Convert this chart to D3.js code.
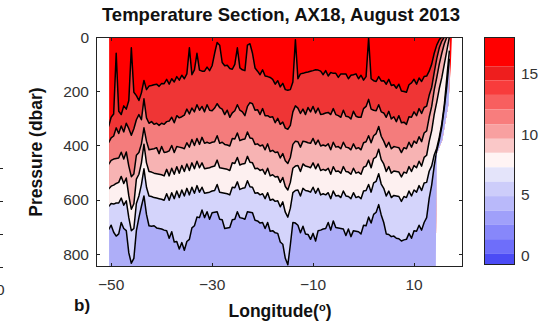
<!DOCTYPE html>
<html>
<head>
<meta charset="utf-8">
<script src="https://cdn.jsdelivr.net/npm/d3@7"></script>
<style>
body { margin: 0; background: #fff; }
svg { display: block; font-family: "Liberation Sans", Arial, sans-serif; }
</style>
</head>
<body>
<svg id="chart" width="553" height="324"></svg>
<script>
// sample longitudes of the section (deg)
const lonGrid = [
  -50.5,-50,-49.5,-49,-48.5,-48,-47.5,-47,-46.5,-46,
  -45.5,-45,-44.5,-44,-43.5,-43,-42.5,-42,-41.5,-41,
  -40.5,-40,-39.5,-39,-38.5,-38,-37.5,-37,-36.5,-36,
  -35.5,-35,-34.5,-34,-33.5,-33,-32.5,-32,-31.5,-31,
  -30.5,-30,-29.5,-29,-28.5,-28,-27.5,-27,-26.5,-26,
  -25.5,-25,-24.5,-24,-23.5,-23,-22.5,-22,-21.5,-21,
  -20.5,-20,-19.5,-19,-18.5,-18,-17.5,-17,-16.5,-16,
  -15.5,-15,-14.5,-14,-13.5,-13,-12.5,-12,-11.5,-11,
  -10.5,-10,-9.5,-9,-8.5,-8,-7.5,-7,-6.5,-6,
  -5.5,-5,-4.5,-4,-3.5,-3,-2.5,-2,-1.5,-1,
  -0.5,0,0.5,1,1.5,2,2.5,3,3.5,4,
  4.5,5,5.5,6,6.5,7,7.5,8,8.5,9,
  9.5,10,10.5,11,11.5,12,12.5,13,13.5,14,
  14.5,15,15.5,16,16.5,17
];

// depth (dbar) of each contour line, top to bottom
const line16 = [
  330,296,284,60,274,286,254,266,234,40,
  204,216,234,206,160,194,181,179,176,174,
  182,171,172,156,174,154,166,146,159,141,
  154,136,40,139,121,60,122,126,126,111,
  124,106,60,20,30,94,106,104,116,119,
  101,40,114,121,124,30,25,60,114,126,
  139,121,144,146,149,156,174,161,184,171,
  194,196,194,166,10,154,136,134,131,129,
  126,124,121,122,126,139,124,144,131,134,
  134,149,136,136,136,154,141,139,136,154,
  141,159,146,5,154,161,164,146,162,161,
  174,156,179,176,189,174,199,201,204,176,
  169,156,174,151,164,146,144,126,100,60,
  30,10,0,0,0,0
];
const line14 = [
  390,372,365,335,356,328,350,318,338,362,
  338,305,286,305,228,298,318,312,322,318,
  326,318,322,312,310,296,316,290,298,294,
  288,266,284,262,276,250,270,256,276,250,
  270,272,262,246,260,266,286,270,296,280,
  272,250,270,276,290,256,242,246,270,268,
  286,264,290,290,296,294,316,300,322,314,
  336,340,326,276,254,262,282,266,286,260,
  276,256,280,262,286,284,280,278,286,264,
  286,290,296,270,292,294,302,274,292,296,
  296,264,256,230,266,270,272,250,276,280,
  296,274,302,294,312,290,316,314,322,294,
  296,276,290,264,282,260,255,215,185,130,
  80,40,15,0,0,0
];
const line12 = [
  470,455,450,448,446,425,450,424,476,515,
  505,436,426,394,335,384,416,414,412,408,
  430,404,426,424,420,400,426,404,406,408,
  412,390,406,378,400,374,396,370,392,388,
  392,388,386,364,392,388,396,398,402,374,
  376,354,382,378,376,350,372,374,396,394,
  402,398,416,394,422,418,426,424,446,430,
  456,466,444,396,384,386,406,384,386,390,
  392,374,396,380,402,398,402,394,416,388,
  406,404,412,388,406,408,416,394,412,408,
  416,390,386,364,390,364,356,330,366,384,
  406,388,412,404,406,408,426,408,412,388,
  406,384,392,368,386,354,346,296,256,195,
  150,100,60,25,0,0
];
const line10 = [
  560,550,546,540,536,514,540,520,586,635,
  615,524,506,464,395,464,496,498,502,504,
  506,508,512,488,512,484,506,478,502,474,
  496,468,492,464,486,458,482,464,486,484,
  482,478,476,454,482,484,486,488,492,464,
  466,444,472,468,466,440,462,464,486,484,
  492,488,506,484,512,508,516,514,536,518,
  551,564,536,484,476,474,496,468,476,478,
  482,464,486,468,492,488,492,484,506,478,
  496,494,502,478,496,498,506,484,502,498,
  506,480,476,454,482,448,442,414,452,468,
  496,478,502,494,496,498,516,498,502,478,
  496,474,482,458,476,444,436,385,345,285,
  240,190,150,100,50,0
];
const line8 = [
  625,614,616,612,612,594,620,604,666,714,
  706,614,586,544,486,554,586,588,592,594,
  596,598,602,578,602,574,596,568,592,564,
  586,558,582,554,576,548,572,554,576,574,
  572,568,566,544,572,574,576,578,582,554,
  556,534,562,558,556,530,552,554,576,574,
  582,578,596,574,602,598,606,604,626,608,
  646,664,631,574,566,564,586,558,566,568,
  572,554,576,558,582,578,582,574,596,568,
  586,584,592,568,586,588,596,574,592,588,
  596,568,566,544,572,538,532,504,542,558,
  586,568,592,584,586,588,606,588,592,568,
  586,564,572,548,566,538,536,495,475,435,
  410,370,320,250,150,50
];
const line6 = [
  710,694,720,734,726,684,706,714,796,834,
  816,714,666,624,586,654,696,698,696,704,
  706,708,712,714,742,718,756,754,782,758,
  786,754,746,704,696,664,666,638,666,644,
  672,648,646,644,672,674,706,704,702,674,
  672,644,666,668,672,644,646,648,676,678,
  686,684,706,684,716,714,722,724,756,764,
  816,840,766,684,686,694,722,698,726,728,
  746,724,752,714,712,708,706,684,712,678,
  702,704,706,708,732,708,736,714,716,718,
  726,694,696,664,686,654,646,618,656,684,
  726,728,736,734,742,744,752,748,746,724,
  742,714,716,694,712,684,666,595,545,475,
  420,380,330,260,180,80
];
const contourLines = [line16, line14, line12, line10, line8, line6];

// fill of each band, from the warm surface layer down to the deep layer
const regionColors = ["#ff0000", "#ef3535", "#f47c7c", "#f7b3b3", "#fdf0f0", "#d4d4fb", "#aeaef8"];

// outline of the sampled area (lon, dbar)
const edgeLon = [-50.4, 17.5, 17.3, 16.8, 15.6, 14.5, 14.3, -50.4];
const edgeP   = [0, 0, 100, 250, 380, 430, 848, 848];

// colorbar bands (degC), top to bottom
const cbEdges = [17.95, 15.55, 14.4, 13.2, 12.0, 10.8, 9.6, 8.45, 7.26, 6.08, 4.9, 3.7, 2.54, 1.37, 0.16, -0.75];
const cbColors = ["#ff0000", "#ee1e1e", "#f83c3c", "#f85f5f", "#f87d7d", "#f8a0a0", "#fac8c8", "#fff4f4",
                  "#e4e4fa", "#cdcdfa", "#b9b9fa", "#a0a0fa", "#8787fa", "#6e6efa", "#4b4bf5"];
const cbTicks = [0, 5, 10, 15];

const lonTicks = [-50, -30, -10, 10];
const pTicks = [0, 200, 400, 600, 800];

const svg = d3.select("#chart");
const plot = {left: 96, right: 463, top: 37, bottom: 267};
const pMax = 848;

const x = d3.scaleLinear().domain([-53, 19.7]).range([plot.left, plot.right]);
const y = d3.scaleLinear().domain([0, pMax]).range([plot.top, plot.bottom]);

svg.append("rect").attr("width", 553).attr("height", 324).attr("fill", "#fff");

const edge = d3.line().x(d => x(d[0])).y(d => y(d[1]));
const edgePts = edgeLon.map((l, i) => [l, edgeP[i]]);

svg.append("clipPath").attr("id", "dataClip")
  .append("path").attr("d", edge(edgePts) + "Z");

const g = svg.append("g").attr("clip-path", "url(#dataClip)");

g.append("rect").attr("x", x(-51)).attr("y", y(0) - 2)
  .attr("width", x(18) - x(-51)).attr("height", y(pMax) - y(0) + 4)
  .attr("fill", regionColors[0]);

const below = d3.area()
  .x((d, i) => x(lonGrid[i]))
  .y0(d => y(d))
  .y1(y(pMax + 10));

contourLines.forEach((ln, k) => {
  g.append("path").attr("d", below(ln)).attr("fill", regionColors[k + 1]);
});

const contour = d3.line().x((d, i) => x(lonGrid[i])).y(d => y(d));
contourLines.forEach(ln => {
  g.append("path").attr("d", contour(ln))
    .attr("fill", "none").attr("stroke", "#000")
    .attr("stroke-width", 1.5).attr("stroke-linejoin", "round");
});

// frame and ticks
const tickLen = 4;
svg.append("rect")
  .attr("x", plot.left + 0.5).attr("y", plot.top + 0.5)
  .attr("width", plot.right - plot.left - 1).attr("height", plot.bottom - plot.top - 1)
  .attr("fill", "none").attr("stroke", "#222").attr("stroke-width", 1);

const ticks = svg.append("g").attr("stroke", "#222").attr("stroke-width", 1);
pTicks.forEach(p => {
  const yy = Math.round(y(p)) + 0.5;
  ticks.append("line").attr("x1", plot.left).attr("x2", plot.left + tickLen).attr("y1", yy).attr("y2", yy);
  ticks.append("line").attr("x1", plot.right - tickLen).attr("x2", plot.right).attr("y1", yy).attr("y2", yy);
});
lonTicks.forEach(l => {
  const xx = Math.round(x(l)) + 0.5;
  ticks.append("line").attr("x1", xx).attr("x2", xx).attr("y1", plot.bottom).attr("y2", plot.bottom - tickLen);
  ticks.append("line").attr("x1", xx).attr("x2", xx).attr("y1", plot.top).attr("y2", plot.top + tickLen);
});

const fmt = v => v < 0 ? "\u2212" + Math.abs(v) : String(v);

svg.append("g").selectAll("text").data(pTicks).join("text")
  .attr("x", 89).attr("y", d => y(d)).attr("dy", "0.36em")
  .attr("text-anchor", "end").attr("font-size", 15.5).attr("fill", "#333")
  .text(d => d);

svg.append("g").selectAll("text").data(lonTicks).join("text")
  .attr("x", d => x(d)).attr("y", 290)
  .attr("text-anchor", "middle").attr("font-size", 15.5).attr("fill", "#333")
  .text(fmt);

// titles
svg.append("text").attr("x", 281).attr("y", 21)
  .attr("text-anchor", "middle").attr("font-size", 18.5).attr("font-weight", "bold").attr("fill", "#111")
  .text("Temperature Section, AX18, August 2013");

svg.append("text").attr("transform", "translate(42,152) rotate(-90)")
  .attr("text-anchor", "middle").attr("font-size", 17.5).attr("font-weight", "bold").attr("fill", "#111")
  .text("Pressure (dbar)");

const xl = svg.append("text").attr("x", 280).attr("y", 317)
  .attr("text-anchor", "middle").attr("font-size", 17.5).attr("font-weight", "bold").attr("fill", "#111");
xl.append("tspan").text("Longitude(");
xl.append("tspan").attr("dy", -6).attr("font-size", 11).text("o");
xl.append("tspan").attr("dy", 6).text(")");

svg.append("text").attr("x", 74).attr("y", 311)
  .attr("font-size", 17).attr("font-weight", "bold").attr("fill", "#111").text("b)");

// colorbar
const cb = {left: 484, right: 515};
const cbY = d3.scaleLinear().domain([-0.75, 17.95]).range([265, 37]);
svg.append("g").selectAll("rect").data(cbColors).join("rect")
  .attr("x", cb.left).attr("width", cb.right - cb.left)
  .attr("y", (d, i) => cbY(cbEdges[i]))
  .attr("height", (d, i) => cbY(cbEdges[i + 1]) - cbY(cbEdges[i]))
  .attr("fill", d => d);
svg.append("rect")
  .attr("x", cb.left + 0.5).attr("y", cbY(17.95) + 0.5)
  .attr("width", cb.right - cb.left - 1).attr("height", cbY(-0.75) - cbY(17.95) - 1)
  .attr("fill", "none").attr("stroke", "#222");
cbTicks.forEach(v => {
  const yy = Math.round(cbY(v)) + 0.5;
  ticks.append("line").attr("x1", cb.left).attr("x2", cb.left + 3).attr("y1", yy).attr("y2", yy);
  ticks.append("line").attr("x1", cb.right - 3).attr("x2", cb.right).attr("y1", yy).attr("y2", yy);
});
svg.append("g").selectAll("text").data(cbTicks).join("text")
  .attr("x", 521).attr("y", d => cbY(d)).attr("dy", "0.36em")
  .attr("font-size", 15.5).attr("fill", "#333")
  .text(d => d);

// edge of the neighbouring panel, cut off at the left border
const strayY = [168, 201, 234, 267];
strayY.forEach(v => {
  ticks.append("line").attr("x1", 0).attr("x2", 3).attr("y1", v + 0.5).attr("y2", v + 0.5);
});
svg.append("text").attr("x", -4).attr("y", 295).attr("font-size", 15.5).attr("fill", "#333").text("0");
</script>
</body>
</html>
